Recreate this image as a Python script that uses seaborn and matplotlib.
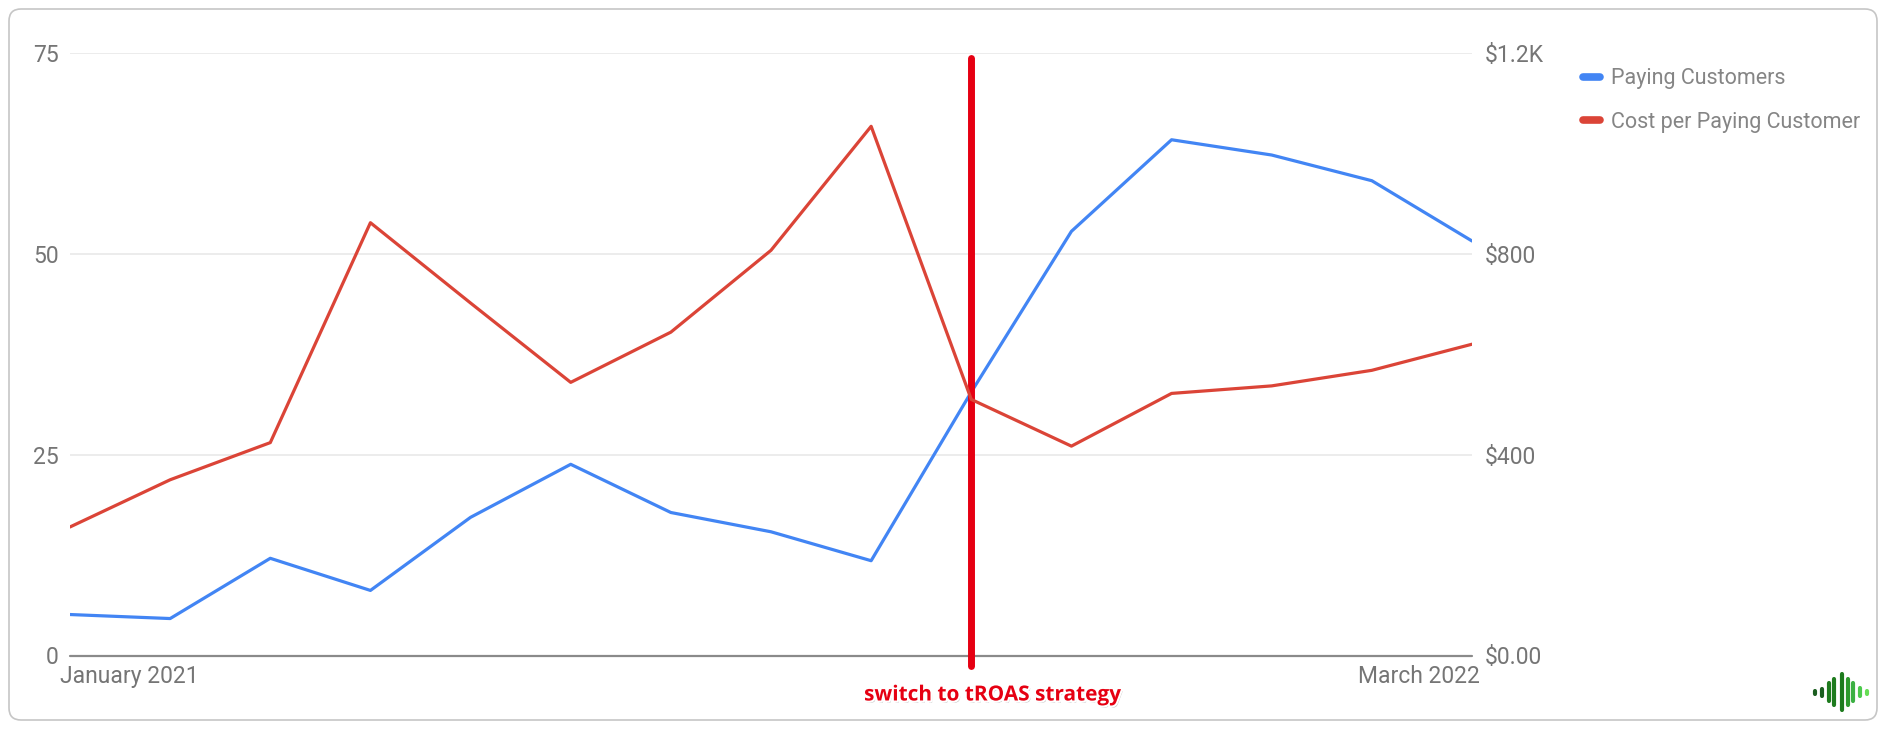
import numpy as np
import pandas as pd
import matplotlib
matplotlib.use("Agg")
import matplotlib.pyplot as plt
import matplotlib.patheffects as pe
import matplotlib.transforms as mtrans
from matplotlib.patches import FancyBboxPatch
from matplotlib.lines import Line2D
import seaborn as sns

# ---- data ----
MONTHS = ["Jan 2021", "Feb 2021", "Mar 2021", "Apr 2021", "May 2021", "Jun 2021",
          "Jul 2021", "Aug 2021", "Sep 2021", "Oct 2021", "Nov 2021", "Dec 2021",
          "Jan 2022", "Feb 2022", "Mar 2022"]
PAYING_CUSTOMERS = [5.1, 4.6, 12.1, 8.1, 17.2, 23.8, 17.8, 15.4, 11.8, 32.8,
                    52.8, 64.2, 62.3, 59.1, 51.6]
COST_PER_CUSTOMER = [256, 350, 424, 862, 702, 544, 644, 807, 1054, 510,
                     417, 522, 537, 568, 620]
LEFT_TICKS = [0, 25, 50, 75]
RIGHT_TICKS = [0, 400, 800, 1200]
RIGHT_LABELS = ["$0.00", "$400", "$800", "$1.2K"]
X_LABELS = ["January 2021", "March 2022"]
SERIES = ["Paying Customers", "Cost per Paying Customer"]
SWITCH_MONTH = "Oct 2021"
NOTE = "switch to tROAS strategy"

BLUE = "#4285f4"
RED = "#db4437"
GREY = "#757575"

df = pd.DataFrame({"idx": range(len(MONTHS)), "month": MONTHS,
                   "customers": PAYING_CUSTOMERS, "cost": COST_PER_CUSTOMER})

sns.set_style("white")
plt.rcParams["font.family"] = ["Roboto", "DejaVu Sans"]

fig = plt.figure(figsize=(18.86, 7.29), dpi=100)
ax = fig.add_axes([70 / 1886, 1 - 655.5 / 729, 1402 / 1886, (655.5 - 53) / 729])
ax2 = ax.twinx()

sns.lineplot(data=df, x="idx", y="customers", ax=ax, color=BLUE, lw=2.3, legend=False)
sns.lineplot(data=df, x="idx", y="cost", ax=ax2, color=RED, lw=2.3, legend=False)

ax.set_xlim(0, len(MONTHS) - 1)
ax.set_ylim(0, 75)
ax2.set_ylim(0, 1200)
ax.set_xlabel("")
ax.set_ylabel("")
ax2.set_ylabel("")

for a in (ax, ax2):
    for s in a.spines.values():
        s.set_visible(False)

ax.set_yticks(LEFT_TICKS)
ax.set_yticklabels([str(t) for t in LEFT_TICKS])
ax2.set_yticks(RIGHT_TICKS)
ax2.set_yticklabels(RIGHT_LABELS)
ax.tick_params(axis="y", length=0, pad=8, labelsize=16.5, labelcolor=GREY)
ax2.tick_params(axis="y", length=0, pad=9, labelsize=16.5, labelcolor=GREY)

for t in LEFT_TICKS[1:]:
    ax.axhline(t, color="#ebebeb", lw=1.3, zorder=0)
ax.axhline(0, color="#8a8a8a", lw=1.6, zorder=1, clip_on=False)

ax.set_xticks([0, len(MONTHS) - 1])
ax.set_xticklabels(X_LABELS)
ax.tick_params(axis="x", length=4, width=1.2, color="#8a8a8a", pad=3,
               labelsize=16.5, labelcolor=GREY)
xl = ax.get_xticklabels()
xl[0].set_ha("left")
xl[1].set_ha("right")
xl[0].set_transform(xl[0].get_transform() + mtrans.ScaledTranslation(-10 / 100, 0, fig.dpi_scale_trans))
xl[1].set_transform(xl[1].get_transform() + mtrans.ScaledTranslation(8 / 100, 0, fig.dpi_scale_trans))

# vertical marker for the strategy switch
sx = MONTHS.index(SWITCH_MONTH)
ax.plot([sx, sx], [-1.3, 74.4], color="#e60012", lw=5, solid_capstyle="round",
        clip_on=False, zorder=6)
fig.text(993 / 1886, 1 - 695 / 729, NOTE, ha="center", va="center",
         fontsize=15, fontweight="bold", color="#e60012",
         family=["Open Sans", "DejaVu Sans"],
         path_effects=[pe.SimplePatchShadow(offset=(1.2, -1.5), shadow_rgbFace="#999999", alpha=0.6),
                       pe.withStroke(linewidth=3, foreground="white")])

# legend
handles = [Line2D([0], [0], color=BLUE, lw=5.5, solid_capstyle="round"),
           Line2D([0], [0], color=RED, lw=5.5, solid_capstyle="round")]
leg = fig.legend(handles, SERIES, loc="upper left",
                 bbox_to_anchor=(1568 / 1886, 1 - 53 / 729), frameon=False,
                 fontsize=15.5, labelcolor="#858585", handlelength=0.8,
                 handletextpad=0.5, labelspacing=1.05, borderpad=0.2)

# outer rounded frame
frame = FancyBboxPatch((9, 9), 1868, 711, boxstyle="round,pad=0,rounding_size=12",
                       transform=None, fill=False, edgecolor="#c6c6c6", lw=1.2)
fig.patches.append(frame)

# small logo bottom right
lax = fig.add_axes([1810 / 1886, 1 - 712 / 729, 62 / 1886, 40 / 729])
lax.set_axis_off()
lax.set_xlim(1810, 1872)
lax.set_ylim(-20, 20)
logo_x = [1815, 1822, 1829, 1834, 1842, 1848, 1853, 1860, 1867]
logo_h = [1.5, 3.5, 9, 13, 18, 13, 9, 4, 1.5]
logo_c = ["#1b5e20", "#1b5e20", "#1e7b1e", "#1e7b1e", "#1e7b1e", "#2e9a2e",
          "#3cb043", "#4cc94c", "#66dd55"]
lax.vlines(logo_x, [-h for h in logo_h], logo_h, colors=logo_c, lw=3,
           capstyle="round")

fig.savefig("out.png", dpi=100, facecolor="white")
